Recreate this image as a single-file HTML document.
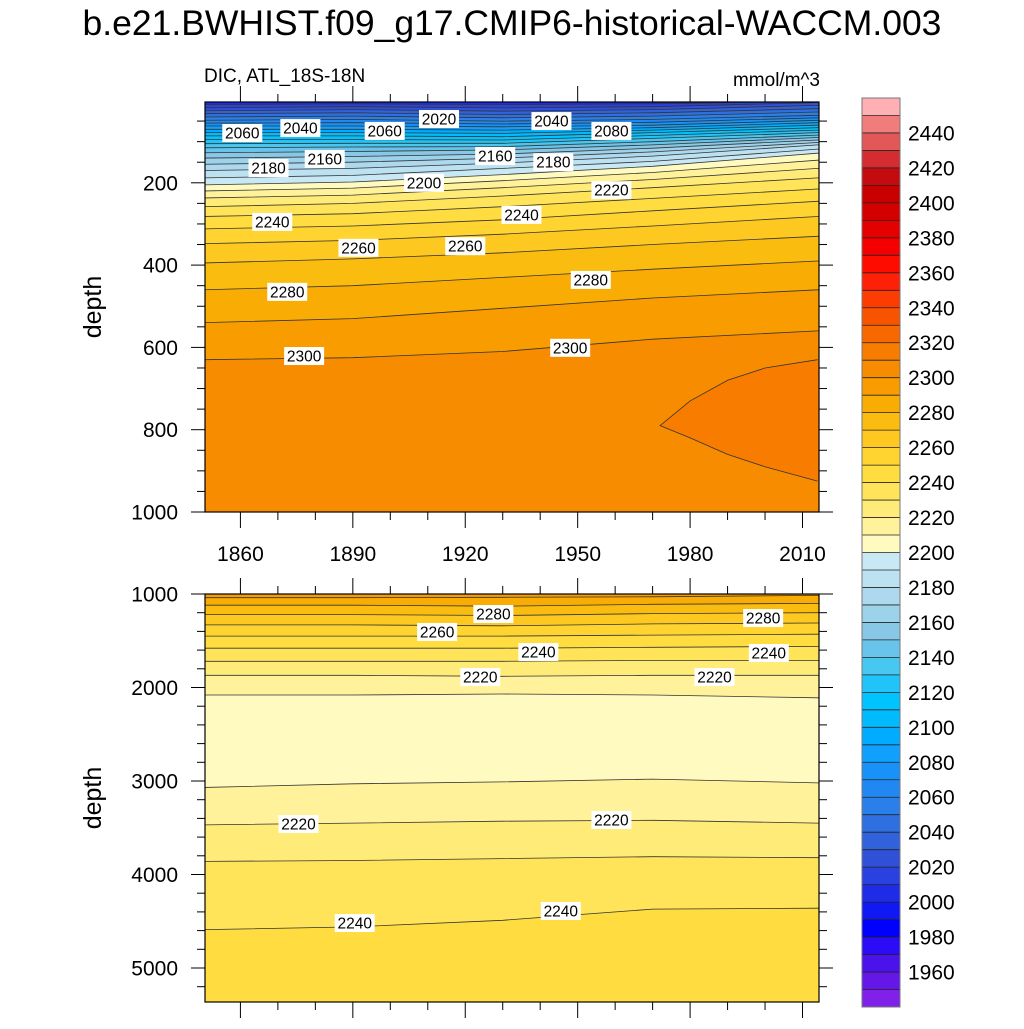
<!DOCTYPE html>
<html><head><meta charset="utf-8"><style>
body{margin:0;background:#fff;}
svg text{font-family:"Liberation Sans",Arial,sans-serif;}
</style></head><body>
<svg id="s" width="1024" height="1024" viewBox="0 0 1024 1024" xmlns="http://www.w3.org/2000/svg">
<text x="512" y="35" text-anchor="middle" font-size="35.5">b.e21.BWHIST.f09_g17.CMIP6-historical-WACCM.003</text>
<text x="204" y="82" font-size="19">DIC, ATL_18S-18N</text>
<text x="820" y="86" font-size="19" text-anchor="end">mmol/m^3</text>
<defs>
<clipPath id="c1"><rect x="205" y="102" width="614" height="410"/></clipPath>
<clipPath id="c2"><rect x="205" y="594" width="614" height="408"/></clipPath>
</defs>
<g id="p1" clip-path="url(#c1)"></g>
<g id="p2" clip-path="url(#c2)"></g>
<g id="ax"></g>
<g id="cb"></g>
</svg>
<script>
const years = [1850, 1890, 1930, 1970, 2014];
const topLevels = [2010,2020,2030,2040,2050,2060,2070,2080,2090,2100,2110,2120,2130,2140,2150,2160,2170,2180,2190,2200,2210,2220,2230,2240,2250,2260,2270,2280,2290,2300];
const topDepths = [
[10,8,10,8,2],[18,15,18,15,5],[25,22,26,22,12],[32,30,34,30,20],[40,38,42,38,28],
[48,46,50,46,36],[55,54,57,53,42],[62,62,64,60,48],[70,70,72,66,54],[78,78,80,72,60],
[86,86,88,78,66],[95,95,96,85,72],[105,104,104,92,78],[115,113,112,100,84],[127,124,120,108,90],
[140,136,130,116,96],[155,150,140,125,102],[170,165,152,135,108],[188,182,165,148,118],[205,198,180,160,128],
[220,213,195,175,145],[237,230,212,192,165],[258,250,232,212,188],[282,275,258,238,215],[312,305,290,268,245],
[348,340,325,305,282],[395,385,370,350,330],[460,450,430,410,390],[540,530,505,480,460],[630,625,610,580,560]];
const topBands = [2000,2010,2020,2030,2040,2050,2060,2070,2080,2090,2100,2110,2120,2130,2140,2150,2160,2170,2180,2190,2200,2210,2220,2230,2240,2250,2260,2270,2280,2290,2300];
const bulgeYears = [1972, 1980, 1990, 2000, 2014];
const bulgeUpper = [790, 730, 680, 650, 630];
const bulgeLower = [790, 820, 860, 890, 925];
const bulgeLevel = 2310;
const botLevels = [2290,2280,2270,2260,2250,2240,2230,2220,2210,2210,2220,2230,2240];
const botDepths = [
[1040,1040,1035,1030,1015],[1120,1120,1130,1110,1100],[1220,1220,1230,1210,1200],[1330,1330,1340,1320,1310],
[1450,1450,1450,1440,1430],[1580,1580,1580,1570,1560],[1720,1720,1720,1710,1710],[1870,1870,1880,1870,1870],
[2080,2080,2070,2080,2110],[3070,3030,3010,2980,3020],[3470,3450,3430,3420,3450],[3860,3850,3830,3810,3820],
[4590,4560,4490,4370,4360]];
const botBands = [2290,2280,2270,2260,2250,2240,2230,2220,2210,2200,2210,2220,2230,2240];
const topLabels = [[1860.5,79,"2060"],[1876,67,"2040"],[1898.5,74,"2060"],[1913,45,"2020"],[1943,50,"2040"],[1959,74,"2080"],
[1867.5,164,"2180"],[1882.5,142,"2160"],[1928,135,"2160"],[1943.5,150,"2180"],[1909,200,"2200"],[1959,218,"2220"],
[1868.5,295,"2240"],[1935,278,"2240"],[1891.5,358,"2260"],[1920,354,"2260"],[1872.5,465,"2280"],[1953.5,436,"2280"],
[1877,621,"2300"],[1948,601,"2300"]];
const botLabels = [[1927.5,1214,"2280"],[1999.5,1257,"2280"],[1912.5,1406,"2260"],[1939.5,1620,"2240"],[2001,1631,"2240"],
[1924,1888,"2220"],[1986.5,1888,"2220"],[1875.5,3460,"2220"],[1959,3417,"2220"],[1890.5,4519,"2240"],[1945.5,4390,"2240"]];
const xTicks = [1860,1890,1920,1950,1980,2010];
const topYTicks = [200,400,600,800,1000];
const botYTicks = [1000,2000,3000,4000,5000];
const cbLabels = [2440,2420,2400,2380,2360,2340,2320,2300,2280,2260,2240,2220,2200,2180,2160,2140,2120,2100,2080,2060,2040,2020,2000,1980,1960];
const cbColors = ["#8020e8","#6418e8","#4c12ec","#2c0cf4","#0000ff","#1018f4","#1e2ce8","#2a40e0","#3050d8",
"#3062dc","#2e70e2","#2a80e8","#2088f0","#1892f8","#10a0ff","#00acff","#00bcff","#00c4ff","#20c4f8","#48c8f0",
"#68c4ea","#88c8e6","#9cd2ea","#aed8ee","#bce2f2","#c8e8f6",
"#fffac0","#fff29a","#ffec78","#ffe45a","#ffdc40","#ffd430","#fdc820","#fbbc10","#f9ac04","#f89c00",
"#f88c00","#f87c00","#f86800","#f85400","#fc3c00","#ff2008","#ff0c00","#f40000","#e40000","#d40000",
"#c80000","#c40c10","#d42c30","#e25858","#f07c7c","#ffb0b4"];
const NS="http://www.w3.org/2000/svg";
const X0=205,X1=819,Y0min=1850.55,Y0max=2014.4;
function xs(yr){return X0+(yr-Y0min)/(Y0max-Y0min)*(X1-X0);}
function ys1(d){return 100.5+d*0.4115;}
function ys2(d){return 594+(d-1000)*0.0935;}
function col(v){const i=Math.round((v-1940)/10);return cbColors[Math.max(0,Math.min(cbColors.length-1,i))];}
function el(tag,attrs,parent){const e=document.createElementNS(NS,tag);for(const k in attrs)e.setAttribute(k,attrs[k]);parent.appendChild(e);return e;}
function pts(yrs,ds,ys){return yrs.map((y,i)=>xs(y).toFixed(1)+","+ys(ds[i]).toFixed(1));}
function panel(g,levels,depths,bands,ys,dTop,dBot){
  const xl=xs(Y0min)-5,xr=xs(Y0max)+5;
  for(let b=0;b<bands.length;b++){
    const upper = b===0 ? null : depths[b-1];
    const lower = b===levels.length ? null : depths[b];
    const up = upper ? [xl+","+ys(upper[0]), ...pts(years,upper,ys), xr+","+ys(upper[upper.length-1])]
                     : [xl+","+(ys(dTop)-5), xr+","+(ys(dTop)-5)];
    const lo = lower ? [xl+","+ys(lower[0]),...pts(years,lower,ys),xr+","+ys(lower[lower.length-1])]
                     : [xl+","+(ys(dBot)+5), xr+","+(ys(dBot)+5)];
    const p=el("polygon",{points:up.concat(lo.slice().reverse()).join(" "),fill:col(bands[b]),stroke:col(bands[b]),"stroke-width":0.6},g);
    
    
  }
  for(let i=0;i<levels.length;i++){
    const l=el("polyline",{points:[xl+","+ys(depths[i][0]),...pts(years,depths[i],ys),xr+","+ys(depths[i][4])].join(" "),fill:"none",stroke:"#333","stroke-width":0.8},g);
    
    
  }
}
const p1=document.getElementById("p1"),p2=document.getElementById("p2");
panel(p1,topLevels,topDepths,topBands,ys1,0,1000);
{
  const xr=xs(Y0max)+5;
  const up=bulgeYears.map((y,i)=>xs(y).toFixed(1)+","+ys1(bulgeUpper[i]).toFixed(1));
  const lo=bulgeYears.map((y,i)=>xs(y).toFixed(1)+","+ys1(bulgeLower[i]).toFixed(1));
  const poly=up.concat([xr+","+ys1(bulgeUpper[bulgeUpper.length-1]), xr+","+ys1(bulgeLower[bulgeLower.length-1])]).concat(lo.slice(1).reverse());
  const b=el("polygon",{points:poly.join(" "),fill:col(bulgeLevel),stroke:"none"},p1);
  
  
  const l=el("polyline",{points:up.slice().reverse().concat(lo.slice(1)).join(" "),fill:"none",stroke:"#333","stroke-width":0.8},p1);
  
  
}
panel(p2,botLevels,botDepths,botBands,ys2,1000,5400);
function labels(g,arr,ys){
  for(const [yr,d,t] of arr){
    const x=xs(yr),y=ys(d);
    const r=el("rect",{x:x-20,y:y-9,width:40,height:18,fill:"#fff"},g);
    
    
    const tx=el("text",{x:x,y:y+5.5,"text-anchor":"middle","font-size":15.5},g);
    tx.textContent=t;
    
    
  }
}
labels(p1,topLabels,ys1);labels(p2,botLabels,ys2);
const ax=document.getElementById("ax");
function frame(top,bot,ys,yt,minorStep,dmin,dmax,name){
  const f=el("rect",{x:X0,y:top,width:X1-X0,height:bot-top,fill:"none",stroke:"#000","stroke-width":1.2},ax);
  
  
  for(let yr=1860;yr<=2010;yr+=10){
    const maj=xTicks.includes(yr),L=maj?16:8,x=xs(yr);
    el("line",{x1:x,x2:x,y1:top,y2:top-L,stroke:"#000","stroke-width":1},ax);
    el("line",{x1:x,x2:x,y1:bot,y2:bot+L,stroke:"#000","stroke-width":1},ax);
  }
  for(let d=Math.ceil(dmin/minorStep)*minorStep;d<=dmax;d+=minorStep){
    const maj=yt.includes(d),L=maj?14:8,y=ys(d);
    el("line",{x1:X0,x2:X0-L,y1:y,y2:y,stroke:"#000","stroke-width":1},ax);
    el("line",{x1:X1,x2:X1+L,y1:y,y2:y,stroke:"#000","stroke-width":1},ax);
  }
  for(const d of yt){
    const t=el("text",{x:178,y:ys(d)+7.5,"text-anchor":"end","font-size":21},ax);
    t.textContent=d;
    
    
  }
  const yl=el("text",{x:0,y:0,"text-anchor":"middle","font-size":25,transform:`translate(101,${(top+bot)/2}) rotate(-90)`},ax);
  yl.textContent="depth";
  
  
}
frame(102,512,ys1,topYTicks,50,3.6,1000,"top-panel");
frame(594,1002,ys2,botYTicks,200,1000,5364,"bottom-panel");
for(const yr of xTicks){
  const t=el("text",{x:xs(yr),y:561,"text-anchor":"middle","font-size":21},ax);
  t.textContent=yr;
  
  
}
const cb=document.getElementById("cb");
const CT=98,CB=1007,n=cbColors.length,h=(CB-CT)/n;
for(let i=0;i<n;i++){
  const r=el("rect",{x:862,y:CB-(i+1)*h,width:38,height:h+0.3,fill:cbColors[i],stroke:"none"},cb);
  
  
  if(i>0)el("line",{x1:862,x2:900,y1:CB-i*h,y2:CB-i*h,stroke:"#222","stroke-width":0.8},cb);
}
el("rect",{x:862,y:CT,width:38,height:CB-CT,fill:"none",stroke:"#777","stroke-width":1},cb);
for(const v of cbLabels){
  const y=CB-(v-1940)/10*h;
  const t=el("text",{x:908,y:y+7.5,"font-size":21},cb);
  t.textContent=v;
  
  
}
</script>
</body></html>
